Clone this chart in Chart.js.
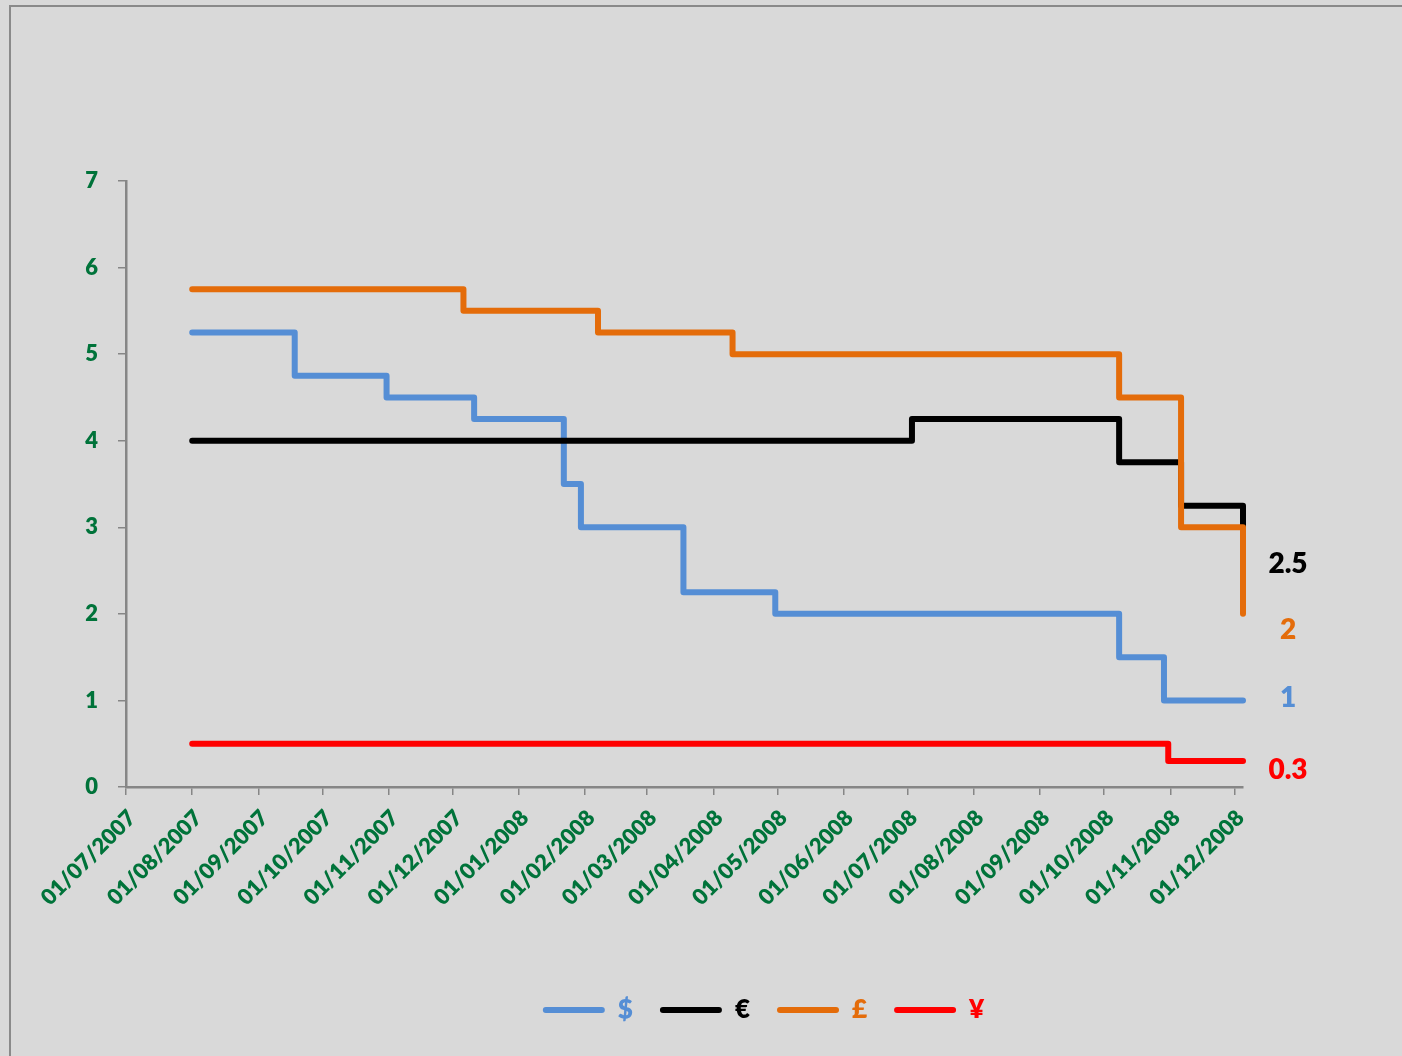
<!DOCTYPE html>
<html>
<head>
<meta charset="utf-8">
<title>Policy rates 2007-2008</title>
<script src="https://cdn.jsdelivr.net/npm/chart.js@4.4.1/dist/chart.umd.min.js"></script>
<style>
    html, body { margin: 0; padding: 0; background: #d9d9d9; }
    body { width: 1402px; height: 1056px; position: relative; overflow: hidden; }
    #frame {
        position: absolute; left: 9px; top: 5px; right: -10px; bottom: -10px;
        border-left: 2px solid #8a8a8a; border-top: 2px solid #8a8a8a;
    }
    #rates-chart { position: absolute; left: 0; top: 0; }
</style>
</head>
<body>
<div id="frame"></div>
<canvas id="rates-chart" width="1402" height="1056"></canvas>
<script>
// Central bank policy rates (%), dates as dd/mm/yyyy, one entry per change
const usdDates = ['01/08/2007', '18/09/2007', '31/10/2007', '11/12/2007', '22/01/2008', '30/01/2008',
                  '18/03/2008', '30/04/2008', '08/10/2008', '29/10/2008', '05/12/2008'];
const usdRates = [5.25, 4.75, 4.5, 4.25, 3.5, 3.0, 2.25, 2.0, 1.5, 1.0, 1.0];

const eurDates = ['01/08/2007', '03/07/2008', '08/10/2008', '06/11/2008', '05/12/2008'];
const eurRates = [4.0, 4.25, 3.75, 3.25, 2.5];

const gbpDates = ['01/08/2007', '06/12/2007', '07/02/2008', '10/04/2008', '08/10/2008', '06/11/2008',
                  '05/12/2008'];
const gbpRates = [5.75, 5.5, 5.25, 5.0, 4.5, 3.0, 2.0];

const jpyDates = ['01/08/2007', '31/10/2008', '05/12/2008'];
const jpyRates = [0.5, 0.3, 0.3];

const monthLabels = ['01/07/2007', '01/08/2007', '01/09/2007', '01/10/2007', '01/11/2007', '01/12/2007',
                     '01/01/2008', '01/02/2008', '01/03/2008', '01/04/2008', '01/05/2008', '01/06/2008',
                     '01/07/2008', '01/08/2008', '01/09/2008', '01/10/2008', '01/11/2008', '01/12/2008'];
const lastDate = '05/12/2008';

const axisGreen = '#00733a';
const axisGrey = '#868686';

function dayNumber(str) {
    const [d, m, y] = str.split('/').map(Number);
    return Date.UTC(y, m - 1, d) / 86400000;
}

function toPoints(dates, rates) {
    return dates.map((d, i) => ({ x: dayNumber(d), y: rates[i] }));
}

function rateSeries(label, dates, rates, color, order, labelShift) {
    return {
        label: label,
        data: toPoints(dates, rates),
        borderColor: color,
        backgroundColor: color,
        borderWidth: 6,
        stepped: true,
        fill: false,
        pointRadius: 0,
        pointHoverRadius: 0,
        borderCapStyle: 'round',
        borderJoinStyle: 'round',
        clip: false,
        order: order,
        labelShift: labelShift
    };
}

// last value of each series written to the right of the plot
const endLabels = {
    id: 'endLabels',
    afterDatasetsDraw(chart) {
        const { ctx, chartArea } = chart;
        const y = chart.scales.y;
        ctx.save();
        ctx.font = '800 28px Lato';
        ctx.textAlign = 'center';
        ctx.textBaseline = 'middle';
        chart.data.datasets.forEach(ds => {
            const last = ds.data[ds.data.length - 1].y;
            ctx.fillStyle = ds.borderColor;
            ctx.fillText(String(last), chartArea.right + 45, y.getPixelForValue(last) + ds.labelShift);
        });
        ctx.restore();
    }
};

// legend row sits a bit right of the canvas centre
const legendShift = {
    id: 'legendShift',
    afterLayout(chart) {
        const dx = 142;
        chart.legend.left += dx;
        chart.legend.right += dx;
    }
};

const tickFont = { family: 'Lato', size: 22, weight: '800' };

new Chart(document.getElementById('rates-chart'), {
    type: 'line',
    data: {
        datasets: [
            rateSeries('$', usdDates, usdRates, '#558ed5', 3, -2),
            rateSeries('€', eurDates, eurRates, '#000000', 2, -7),
            rateSeries('£', gbpDates, gbpRates, '#e46c0a', 1, 16),
            rateSeries('¥', jpyDates, jpyRates, '#ff0000', 0, 9)
        ]
    },
    options: {
        responsive: false,
        devicePixelRatio: 1,
        animation: false,
        layout: { padding: { left: 0, right: 159, top: 181, bottom: 23 } },
        plugins: {
            tooltip: { enabled: false },
            legend: {
                position: 'bottom',
                labels: {
                    boxWidth: 62,
                    boxHeight: 6,
                    padding: 27,
                    useBorderRadius: true,
                    borderRadius: 3,
                    font: { family: 'Lato', size: 26, weight: '800' },
                    generateLabels: chart => chart.data.datasets.map((ds, i) => ({
                        text: ds.label,
                        fillStyle: ds.borderColor,
                        strokeStyle: ds.borderColor,
                        fontColor: ds.borderColor,
                        lineWidth: 0,
                        borderRadius: 3,
                        hidden: false,
                        datasetIndex: i
                    }))
                }
            }
        },
        scales: {
            x: {
                type: 'linear',
                min: dayNumber(monthLabels[0]),
                max: dayNumber(lastDate),
                afterBuildTicks: scale => {
                    scale.ticks = monthLabels.map(s => ({ value: dayNumber(s) }));
                },
                afterFit: scale => { scale.height = 183; },
                grid: { drawOnChartArea: false, color: axisGrey, lineWidth: 1.5, tickLength: 8 },
                border: { color: axisGrey, width: 2.5 },
                ticks: {
                    autoSkip: false,
                    minRotation: 45,
                    maxRotation: 45,
                    padding: 10,
                    labelOffset: 6,
                    color: axisGreen,
                    font: tickFont,
                    callback: (value, i) => monthLabels[i]
                }
            },
            y: {
                min: 0,
                max: 7,
                afterFit: scale => { scale.width = 126; },
                grid: { drawOnChartArea: false, color: axisGrey, lineWidth: 1.5, tickLength: 8 },
                border: { color: axisGrey, width: 2.5 },
                ticks: { stepSize: 1, padding: 20, color: axisGreen, font: tickFont }
            }
        }
    },
    plugins: [endLabels, legendShift]
});
</script>
</body>
</html>
